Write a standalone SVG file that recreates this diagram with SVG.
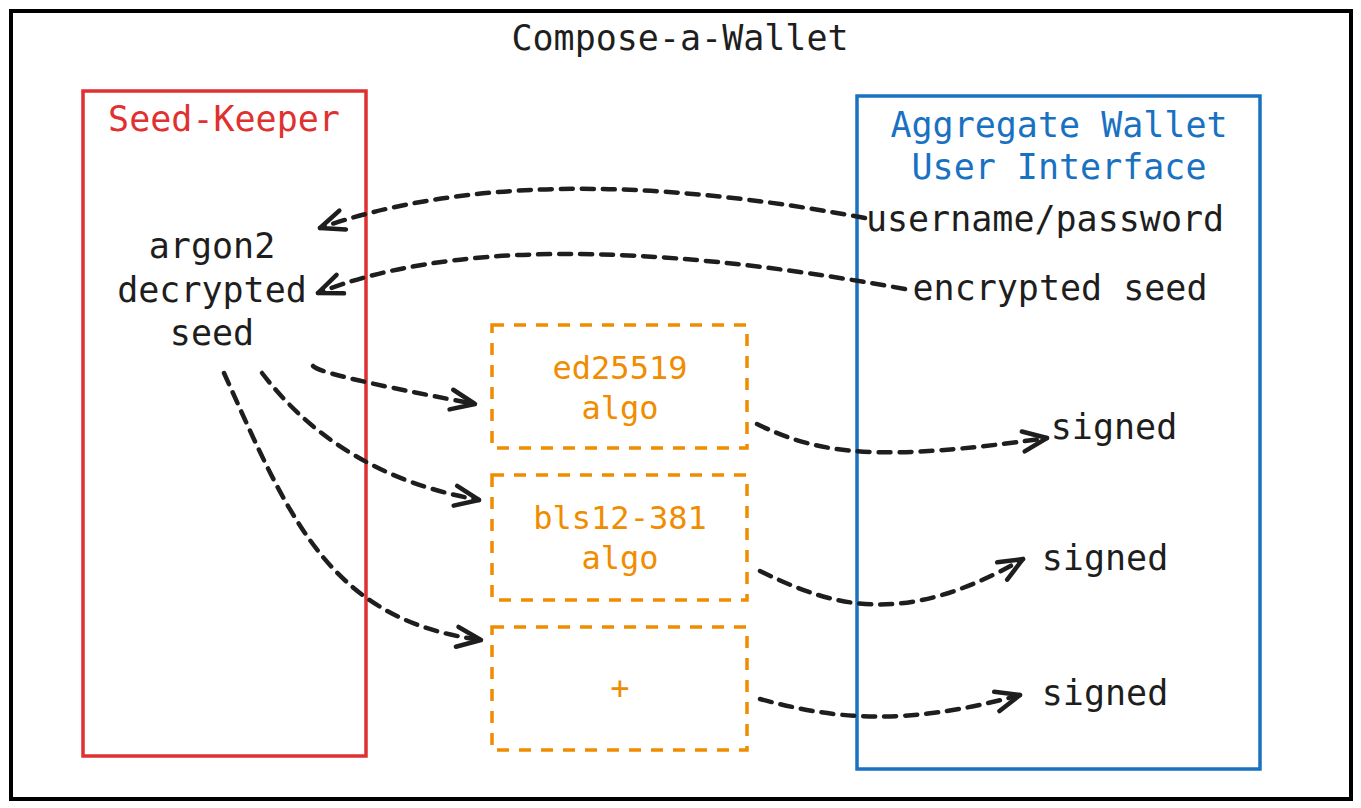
<svg xmlns="http://www.w3.org/2000/svg" width="1361" height="808" viewBox="0 0 1361 808">
<defs>
<style>
text{font-family:"DejaVu Sans Mono","Liberation Mono",monospace;font-size:35px;text-anchor:middle;dominant-baseline:central;fill:#1e1e1e}
.red{fill:#e03131}
.blue{fill:#1971c2}
.org{fill:#f08c00;font-size:32px}
.conn{fill:none;stroke:#1e1e1e;stroke-width:4.5;stroke-dasharray:12 9;stroke-linecap:round;marker-end:url(#ah)}
.obox{fill:none;stroke:#f08c00;stroke-width:3.5;stroke-dasharray:12 10}
</style>
<marker id="ah" markerUnits="userSpaceOnUse" markerWidth="40" markerHeight="40" viewBox="-30 -20 40 40" refX="0" refY="0" orient="auto">
<path d="M-24,-10 L0,0 L-24,10" fill="none" stroke="#1e1e1e" stroke-width="4.5" stroke-linecap="round" stroke-linejoin="round"/>
</marker>
</defs>
<rect width="1361" height="808" fill="#ffffff"/>
<g id="frame">
<rect x="11" y="11" width="1340" height="788" fill="none" stroke="#000" stroke-width="4"/>
<text x="680" y="38">Compose-a-Wallet</text>
</g>
<g id="seed-keeper">
<rect x="83" y="91" width="283" height="665" fill="none" stroke="#e03131" stroke-width="3.5"/>
<text class="red" x="224" y="119">Seed-Keeper</text>
<text x="212" y="246">argon2</text>
<text x="212" y="290">decrypted</text>
<text x="212" y="333">seed</text>
</g>
<g id="aggregate-wallet">
<rect x="857" y="96" width="403" height="673" fill="none" stroke="#1971c2" stroke-width="3.5"/>
<text class="blue" x="1059" y="125">Aggregate Wallet</text>
<text class="blue" x="1059" y="167">User Interface</text>
<text x="1045" y="219">username/password</text>
<text x="1060" y="288">encrypted seed</text>
<text x="1114" y="427">signed</text>
<text x="1105" y="558">signed</text>
<text x="1105" y="693">signed</text>
</g>
<g id="ed25519">
<rect class="obox" x="492" y="325" width="255" height="123"/>
<text class="org" x="620" y="368">ed25519</text>
<text class="org" x="620" y="408">algo</text>
</g>
<g id="bls12-381">
<rect class="obox" x="492" y="475" width="255" height="125"/>
<text class="org" x="620" y="518">bls12-381</text>
<text class="org" x="620" y="558">algo</text>
</g>
<g id="plus">
<rect class="obox" x="492" y="627" width="255" height="123"/>
<text class="org" x="620" y="688">+</text>
</g>
<g id="connectors">
<path class="conn" d="M865,218 Q528,155 320,228"/>
<path class="conn" d="M905,289 Q508,217 318,293"/>
<path class="conn" d="M313,366 Q320,375 475,404"/>
<path class="conn" d="M262,373 Q340,475 479,500"/>
<path class="conn" d="M224,373 C290,520 330,620 481,640"/>
<path class="conn" d="M757,424 C820,455 880,462 1047,438"/>
<path class="conn" d="M760,571 C830,605 900,630 1023,559"/>
<path class="conn" d="M760,699 C830,718 900,728 1020,695"/>
</g>
</svg>
